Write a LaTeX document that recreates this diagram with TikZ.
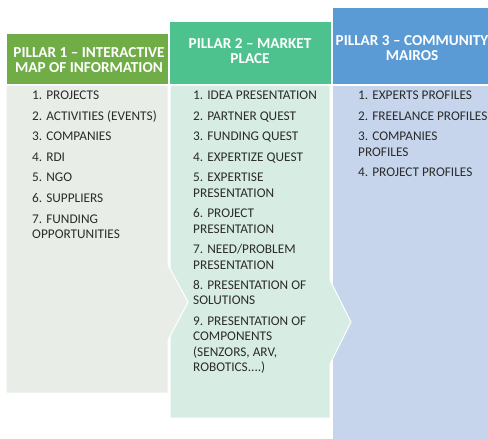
\documentclass[tikz,border=0pt]{standalone}
\usepackage{fontspec}
\setmainfont{Carlito}
\usepackage{xcolor}

\definecolor{headone}{HTML}{70AD47}
\definecolor{headtwo}{HTML}{4EC28E}
\definecolor{headthree}{HTML}{5B9BD5}
\definecolor{bodyone}{HTML}{E9EDE7}
\definecolor{bodytwo}{HTML}{D7EDE4}
\definecolor{bodythree}{HTML}{C6D5EC}
\definecolor{itemgray}{HTML}{2B2B2B}

\tikzset{
    panel/.style={fill=#1, draw=white, line width=1pt},
    headtext/.style={text=white, font=\bfseries\fontsize{15.2}{15}\selectfont, align=center, inner sep=0pt},
    item/.style={text=itemgray, font=\fontsize{13.3}{15.3}\selectfont, anchor=base west, align=left, inner sep=0pt}
}

\begin{document}
\begin{tikzpicture}[x=1pt, y=-1pt]
                \useasboundingbox (0,0) rectangle (488,439);

                \filldraw[panel=bodythree] (332,85) rectangle (489,440);
                \filldraw[panel=bodytwo] (170,85) -- (330,85) -- (330,280) -- (351,322) -- (330,364) -- (330,418) -- (170,418) -- cycle;
                \filldraw[panel=bodyone] (6,85) -- (168,85) -- (168,265) -- (188,302) -- (168,340) -- (168,393) -- (6,393) -- cycle;

                \filldraw[panel=headone] (6,33) rectangle (168,84);
                \filldraw[panel=headtwo] (169,21) rectangle (331,84);
                \filldraw[panel=headthree] (332,7) rectangle (489,84);

                \node[headtext] (head1) at (89,60) {PILLAR 1 -- INTERACTIVE\\MAP OF INFORMATION};
                \node[headtext] (head2) at (250,51) {PILLAR 2 -- MARKET\\PLACE};
                \node[headtext] (head3) at (412,48) {PILLAR 3 -- COMMUNITY\\MAIROS};

                \node[item] (one1) at (32,99.5) {1. PROJECTS};
                \node[item] (one2) at (32,120.1) {2. ACTIVITIES (EVENTS)};
                \node[item] (one3) at (32,140.7) {3. COMPANIES};
                \node[item] (one4) at (32,161.3) {4. RDI};
                \node[item] (one5) at (32,181.9) {5. NGO};
                \node[item] (one6) at (32,202.5) {6. SUPPLIERS};
                \node[item] (one7) at (32,238.4) {7. FUNDING\\OPPORTUNITIES};

                \node[item] (two1) at (193,99.5) {1. IDEA PRESENTATION};
                \node[item] (two2) at (193,120.1) {2. PARTNER QUEST};
                \node[item] (two3) at (193,140.7) {3. FUNDING QUEST};
                \node[item] (two4) at (193,161.3) {4. EXPERTIZE QUEST};
                \node[item] (two5) at (193,197.2) {5. EXPERTISE\\PRESENTATION};
                \node[item] (two6) at (193,233.1) {6. PROJECT\\PRESENTATION};
                \node[item] (two7) at (193,269) {7. NEED/PROBLEM\\PRESENTATION};
                \node[item] (two8) at (193,304.9) {8. PRESENTATION OF\\SOLUTIONS};
                \node[item] (two9) at (193,371.4) {9. PRESENTATION OF\\COMPONENTS\\(SENZORS, ARV,\\ROBOTICS....)};

                \node[item] (three1) at (358,99.5) {1. EXPERTS PROFILES};
                \node[item] (three2) at (358,120.1) {2. FREELANCE PROFILES};
                \node[item] (three3) at (358,156) {3. COMPANIES\\PROFILES};
                \node[item] (three4) at (358,176.6) {4. PROJECT PROFILES};
            \end{tikzpicture}
\end{document}
